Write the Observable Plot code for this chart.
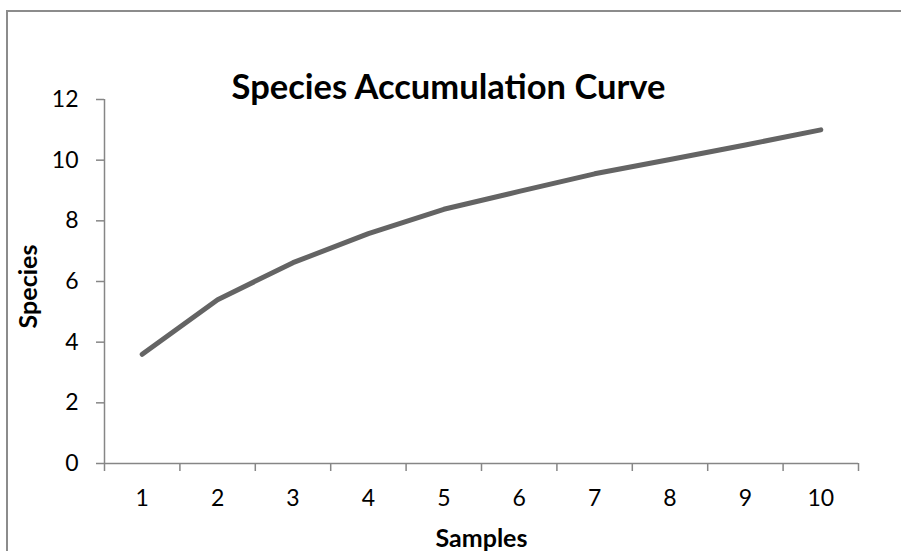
<!DOCTYPE html>
<html><head><meta charset="utf-8">
<script src="https://cdn.jsdelivr.net/npm/d3@7"></script>
<script src="https://cdn.jsdelivr.net/npm/@observablehq/plot@0.6"></script>
<style>
body{margin:0;background:#fff;}
#wrap{position:relative;width:901px;height:551px;overflow:hidden;}
#border{position:absolute;left:6px;top:10px;width:1000px;height:1000px;border:2px solid #8c8c8c;box-sizing:border-box;pointer-events:none;}
#wrap svg{position:absolute;left:0;top:0;}
</style></head><body><div id="wrap"><div id="border"></div></div>
<script>
const samples = [1, 2, 3, 4, 5, 6, 7, 8, 9, 10];
const species = [3.6, 5.4, 6.62, 7.58, 8.38, 8.97, 9.55, 10.02, 10.5, 11.0];
const yTicks = [0, 2, 4, 6, 8, 10, 12];
const xBoundaries = [0.5, 1.5, 2.5, 3.5, 4.5, 5.5, 6.5, 7.5, 8.5, 9.5, 10.5];
const title = "Species Accumulation Curve";
const xLabel = "Samples";
const yLabel = "Species";

const data = samples.map((s, i) => ({sample: s, species: species[i]}));
const axisColor = "#868686";

const chart = Plot.plot({
  width: 901, height: 551,
  marginLeft: 104, marginRight: 43, marginTop: 99, marginBottom: 88,
  style: {fontFamily: "Lato, sans-serif", fontSize: "23px", color: "#000", background: "transparent"},
  x: {domain: [0.5, 10.5]},
  y: {domain: [0, 12]},
  marks: [
    Plot.ruleY([0], {stroke: axisColor, strokeWidth: 1.5}),
    Plot.ruleX([0.5], {stroke: axisColor, strokeWidth: 1.5}),
    Plot.axisX(xBoundaries, {tickSize: 8, tickFormat: () => "", stroke: axisColor, strokeWidth: 1.5, label: null}),
    Plot.axisX(samples, {tickSize: 0, tickPadding: 26, fontSize: 23, fill: "#000", label: null}),
    Plot.axisY(yTicks, {tickSize: 8, tickPadding: 18, stroke: axisColor, strokeWidth: 1.5, fill: "#000", fontSize: 23, label: null}),
    Plot.lineY(data, {x: "sample", y: "species", stroke: "#646464", strokeWidth: 5, strokeLinecap: "round", strokeLinejoin: "round"}),
    Plot.text([title], {frameAnchor: "top-left", dx: 344, dy: -1, lineAnchor: "bottom", textAnchor: "middle", fontWeight: "bold", fontSize: 34.5, fill: "#000"}),
    Plot.text([xLabel], {frameAnchor: "bottom", dy: 83, lineAnchor: "bottom", textAnchor: "middle", fontWeight: "bold", fontSize: 25, fill: "#000"}),
    Plot.text([yLabel], {frameAnchor: "left", rotate: -90, dx: -68, dy: 5, lineAnchor: "bottom", textAnchor: "middle", fontWeight: "bold", fontSize: 25, fill: "#000"})
  ]
});
document.getElementById("wrap").appendChild(chart);
</script>
</body></html>
